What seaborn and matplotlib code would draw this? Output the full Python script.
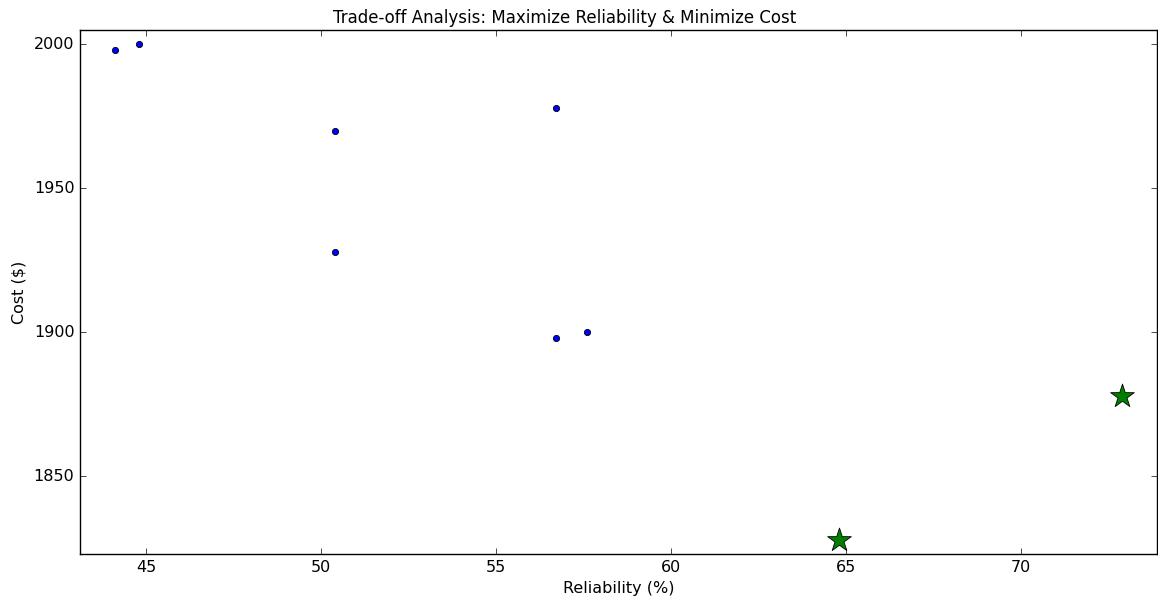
import pandas as pd
import numpy as np
import matplotlib
matplotlib.use('Agg')
import matplotlib.pyplot as plt
import seaborn as sns

# data
reliability = [44.1, 44.8, 50.4, 56.7, 50.4, 56.7, 57.6]
cost = [1998, 2000, 1970, 1978, 1928, 1898, 1900]

best_reliability = [72.9, 64.8]
best_cost = [1878, 1828]

df = pd.DataFrame({'Reliability': reliability, 'Cost': cost})
best_df = pd.DataFrame({'Reliability': best_reliability, 'Cost': best_cost})

plt.style.use('classic')
plt.rcParams['font.family'] = ['DejaVu Sans']
plt.rcParams['font.size'] = 11.5

fig = plt.figure(figsize=(11.58, 6.01), dpi=100, facecolor='white')
ax = fig.add_axes([80 / 1158, 1 - 554 / 601, 1077 / 1158, 524 / 601])
ax.set_facecolor('white')

sns.scatterplot(data=df, x='Reliability', y='Cost', ax=ax, color='blue',
                edgecolor='black', linewidth=0.6, s=20, zorder=3)
sns.scatterplot(data=best_df, x='Reliability', y='Cost', ax=ax, color='green',
                marker='*', edgecolor='black', linewidth=0.6, s=320, zorder=4)

all_x = reliability + best_reliability
all_y = cost + best_cost
ax.set_xlim(min(all_x) - 1, max(all_x) + 1)
ax.set_ylim(min(all_y) - 5, max(all_y) + 5)
ax.set_xticks([45, 50, 55, 60, 65, 70])
ax.set_yticks([1850, 1900, 1950, 2000])

ax.set_xlabel('Reliability (%)', fontsize=11.5)
ax.set_ylabel('Cost ($)', fontsize=11.5)
ax.set_title('Trade-off Analysis: Maximize Reliability & Minimize Cost',
             fontsize=12, x=0.45)
ax.tick_params(labelsize=11.5)

fig.savefig('out.png', dpi=100, facecolor='white')
